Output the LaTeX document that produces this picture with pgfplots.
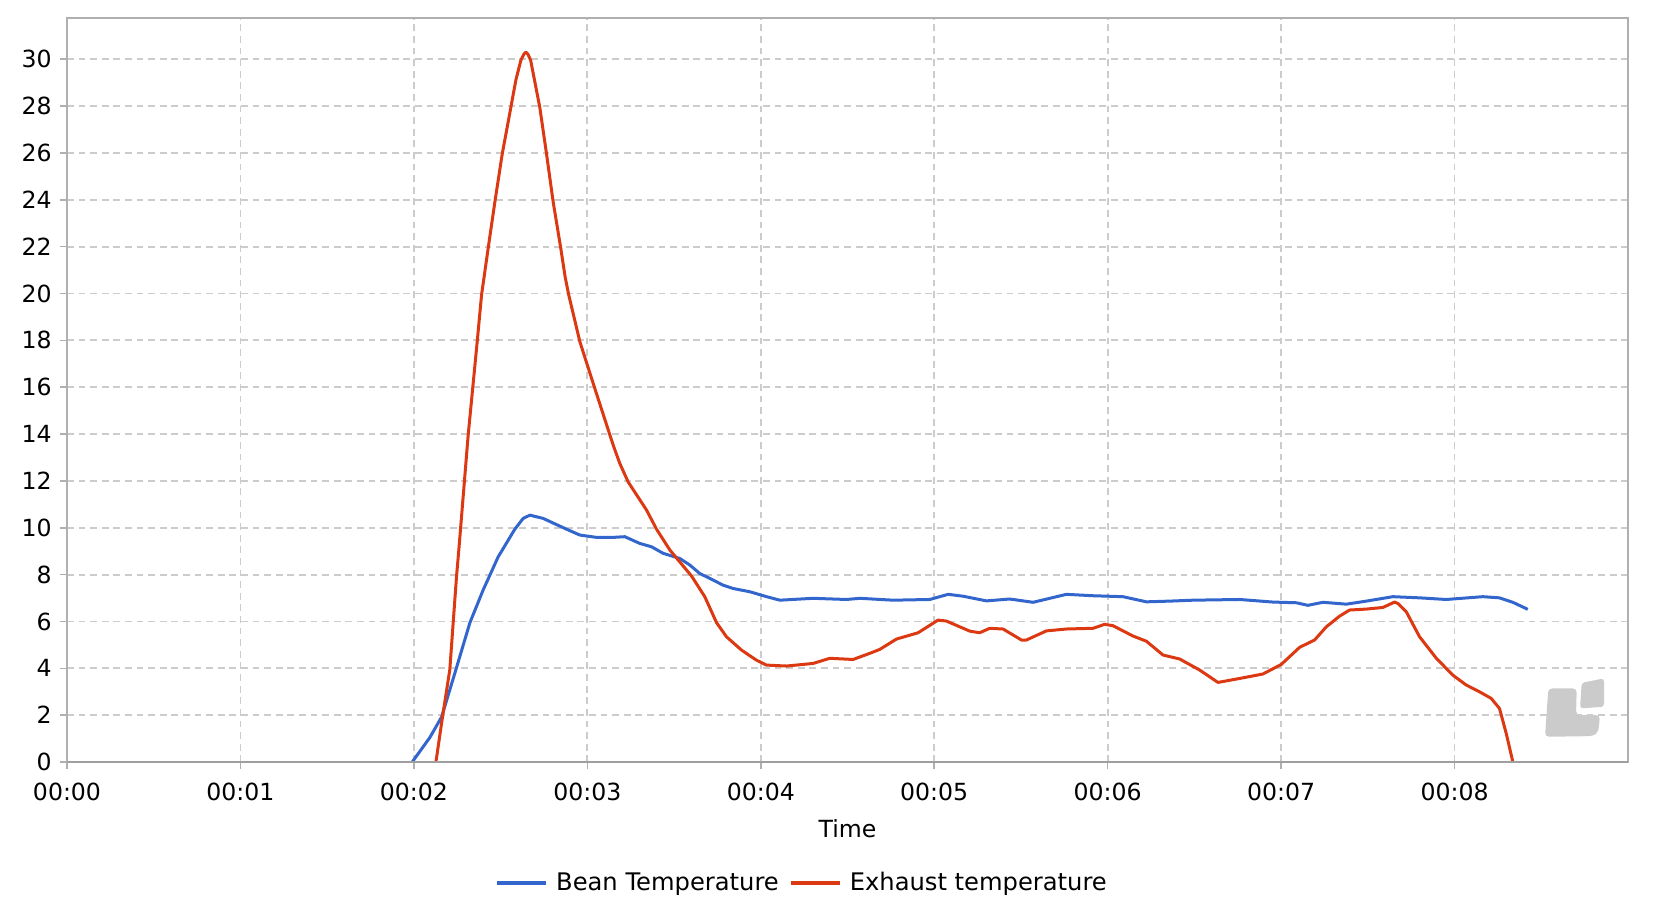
\documentclass[border=0pt]{standalone}
\usepackage{fontspec}
\setmainfont{DejaVu Sans}
\usepackage{pgfplots}
\pgfplotsset{compat=1.18}
\definecolor{bean}{HTML}{3366CC}
\definecolor{exh}{HTML}{DC3912}
\definecolor{gridc}{HTML}{CCCCCC}
\definecolor{framec}{HTML}{B0B0B0}
\definecolor{logoc}{HTML}{CBCBCB}
\pgfplotstableread{
x y
1.990 0
2.092 1.05
2.160 1.93
2.242 3.94
2.323 5.95
2.399 7.34
2.486 8.76
2.582 9.94
2.630 10.40
2.669 10.54
2.745 10.40
2.880 9.94
2.957 9.69
3.053 9.59
3.149 9.59
3.216 9.62
3.303 9.33
3.370 9.19
3.437 8.91
3.533 8.69
3.591 8.41
3.648 8.05
3.725 7.77
3.783 7.55
3.840 7.41
3.937 7.27
4.033 7.06
4.110 6.91
4.301 6.99
4.494 6.94
4.571 6.99
4.763 6.91
4.974 6.94
5.080 7.16
5.166 7.08
5.301 6.88
5.435 6.96
5.570 6.82
5.762 7.16
5.915 7.10
6.088 7.06
6.223 6.84
6.357 6.87
6.492 6.91
6.761 6.94
6.953 6.83
7.088 6.80
7.154 6.69
7.241 6.82
7.376 6.74
7.491 6.87
7.644 7.06
7.798 7.01
7.952 6.94
8.163 7.06
8.259 7.01
8.336 6.82
8.422 6.52
}\beantable
\pgfplotstableread{
x y
2.127 0
2.165 1.93
2.207 3.94
2.246 7.94
2.259 9.05
2.313 13.96
2.365 17.94
2.390 19.93
2.428 21.92
2.467 23.91
2.509 25.94
2.559 27.94
2.588 29.11
2.617 29.96
2.635 30.22
2.646 30.30
2.657 30.22
2.673 29.96
2.726 27.94
2.765 25.94
2.803 23.91
2.847 21.92
2.872 20.71
2.893 19.93
2.957 17.94
3.043 15.95
3.130 13.96
3.159 13.32
3.187 12.75
3.235 11.96
3.341 10.76
3.399 9.94
3.476 9.05
3.601 7.94
3.677 7.06
3.745 5.95
3.802 5.35
3.889 4.78
3.975 4.35
4.033 4.14
4.148 4.10
4.301 4.21
4.398 4.43
4.532 4.38
4.628 4.64
4.686 4.81
4.782 5.25
4.907 5.52
5.022 6.06
5.070 6.02
5.205 5.59
5.262 5.52
5.320 5.71
5.397 5.68
5.503 5.21
5.531 5.21
5.647 5.60
5.762 5.68
5.915 5.71
5.983 5.88
6.031 5.82
6.146 5.38
6.223 5.16
6.319 4.57
6.415 4.40
6.530 3.93
6.636 3.40
6.761 3.57
6.895 3.76
7.001 4.17
7.107 4.90
7.193 5.21
7.260 5.77
7.337 6.23
7.395 6.49
7.491 6.53
7.587 6.60
7.654 6.83
7.673 6.77
7.722 6.41
7.798 5.35
7.895 4.43
7.990 3.71
8.067 3.29
8.144 3.00
8.211 2.72
8.259 2.29
8.298 1.22
8.336 0.01
}\exhtable
\begin{document}
\fontsize{11.8}{14}\selectfont
\begin{tikzpicture}
\useasboundingbox (-33.5pt,-76pt) rectangle (800.5pt,381.05pt);
\begin{axis}[
  at={(0pt,0pt)}, anchor=south west,
  scale only axis, width=780.5pt, height=371.85pt,
  xmin=0, xmax=9, ymin=0, ymax=31.74,
  xtick={0,1,2,3,4,5,6,7,8},
  xticklabels={00:00,00:01,00:02,00:03,00:04,00:05,00:06,00:07,00:08},
  ytick={0,2,4,6,8,10,12,14,16,18,20,22,24,26,28,30},
  xtick pos=bottom, ytick pos=left,
  tick align=outside, major tick length=3.5pt,
  tick style={framec, line width=0.8pt},
  axis line style={framec, line width=1pt},
  grid=major,
  major grid style={gridc, dash pattern=on 3.4pt off 2.4pt, line width=0.9pt},
  /pgf/number format/assume math mode=true,
  tick label style={font=\fontsize{11.8}{14}\selectfont, text=black},
  xticklabel style={yshift=-2.6pt},
  xlabel={Time},
  xlabel style={font=\fontsize{11.8}{14}\selectfont},
  every axis x label/.style={at={(axis description cs:0.5,-0.0901)}, anchor=center},
  legend columns=2,
  legend style={at={(rel axis cs:0.4715,-0.1627)}, anchor=center, draw=none, fill=none,
     font=\fontsize{12.1}{14}\selectfont,
     /tikz/every odd column/.append style={column sep=2pt},
     /tikz/every even column/.append style={column sep=3pt}},
  legend image code/.code={\draw[#1, line width=2pt] (0pt,0pt) -- (24.5pt,0pt);},
  clip=true,
]
\addplot[bean, line width=1.5pt, line join=round] table[x=x, y=y] {\beantable};
\addlegendentry{Bean Temperature}
\addplot[exh, line width=1.5pt, line join=round] table[x=x, y=y] {\exhtable};
\addlegendentry{Exhaust temperature}
\draw[gray!75, line width=1.4pt] (rel axis cs:0,0) -- (rel axis cs:1,0);
\end{axis}
\fill[logoc, rounded corners=2pt] (740.65pt,36.85pt) -- (754.85pt,36.85pt) -- (754.5pt,23.5pt) -- (766.5pt,23.5pt) -- (765.65pt,15.15pt) -- (763.15pt,13pt) -- (739pt,12.65pt) -- cycle;
\fill[logoc, rounded corners=1.5pt] (757.35pt,39.65pt) -- (768.5pt,41.85pt) -- (768.5pt,27.65pt) -- (756.5pt,26.85pt) -- cycle;
\end{tikzpicture}
\end{document}
